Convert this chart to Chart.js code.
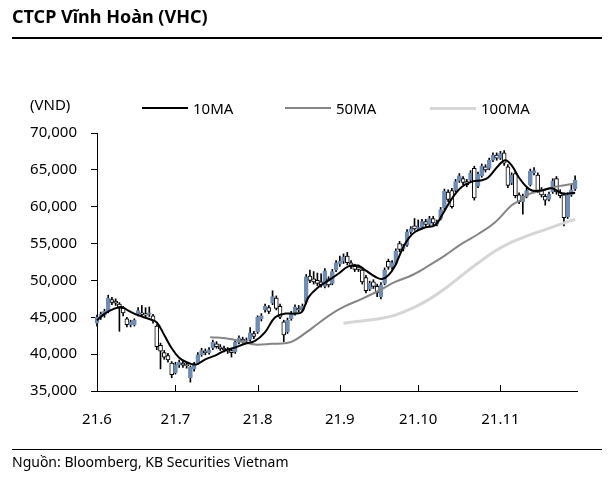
<!DOCTYPE html>
<html>
<head>
<meta charset="utf-8">
<script src="https://cdn.jsdelivr.net/npm/chart.js@4.4.1/dist/chart.umd.min.js"></script>
<style>
  body { margin: 0; background: #fff; font-family: 'Noto Sans', sans-serif; color: #000; }
  #wrap { position: relative; width: 614px; height: 479px; overflow: hidden; }
  #chart { position: absolute; left: 0; top: 0; }
  .title { position: absolute; left: 12px; top: 4px; font-size: 18px; font-weight: bold; }
  .rule { position: absolute; left: 12px; width: 590px; border-top: 1px solid #000; }
  .unit { position: absolute; left: 30px; top: 94px; font-size: 15px; }
  .legend { position: absolute; top: 98px; font-size: 15px; display: flex; align-items: center; }
  .legend i { display: inline-block; width: 46px; margin-right: 5px; }
  .source { position: absolute; left: 12px; top: 452px; font-size: 14px; }
</style>
</head>
<body>
<div id="wrap">
  <canvas id="chart" width="614" height="479"></canvas>
  <div class="title">CTCP Vĩnh Hoàn (VHC)</div>
  <div class="rule" style="top:37px;border-top-width:2px"></div>
  <div class="unit">(VND)</div>
  <div id="legend"></div>
  <div class="rule" style="top:449px"></div>
  <div class="source">Nguồn: Bloomberg, KB Securities Vietnam</div>
</div>
<script>
// daily candles, June - Nov 2021 (index = trading day)
const opens = [44200,45000,45300,45800,47400,47200,46800,46200,44800,44000,44000,45500,45600,45500,45400,45200,43800,41200,40200,39800,
  38800,37500,38500,38800,38600,36800,38000,38800,39900,40400,40200,40800,41400,41000,40800,40600,40500,40300,41600,42000,
  41800,42000,42800,43000,44800,46000,46300,46900,47600,46500,44400,43000,44800,45500,46200,46000,47000,50600,50200,50000,
  49800,49200,50200,49600,51400,52200,52600,53300,52400,51900,51800,51400,50400,48800,49800,49200,47800,49600,52600,51800,
  52300,55000,54300,54800,56600,57400,57000,57200,58000,57600,58400,57600,58400,59800,62000,62200,62200,63500,63800,63400,
  63600,65200,62800,64200,65400,65200,66300,67000,66600,67300,65400,63200,64500,61600,60700,61400,63000,64600,64300,62300,
  61400,61000,62000,63800,62000,61600,58600,61600,62400];
const closes = [45000,45400,45800,47600,47000,46900,46200,45600,44000,44300,44600,45900,45400,45300,45600,44500,41000,40400,39600,39200,
  37200,38600,38900,38500,38400,38200,38600,39900,40500,40200,40600,41600,41000,40700,40600,40400,40200,41600,42200,41800,
  41900,42900,42400,45000,45200,46500,45800,47800,46200,45000,42600,44600,45500,46400,46000,46500,50500,50000,49800,49600,
  49400,51300,49400,51200,52400,52600,53200,52400,51900,51500,51500,49800,48600,49600,49200,48300,49400,51400,51800,52400,
  54000,54200,54600,56600,57000,57000,57200,58000,57600,58400,57800,57900,59600,62100,61000,60000,63400,64200,63300,63000,
  64600,61200,64400,65500,65000,66300,67000,66600,67200,65900,62900,64300,61500,60700,61400,62200,64800,64900,62200,61600,
  60900,61700,63500,62000,61500,58500,61600,62300,63600];
const highs = [45300,45700,46100,48000,47700,47500,47000,46500,45000,44600,44800,46300,46600,46300,46400,45400,44000,41500,40500,40100,
  39000,38900,39200,39100,38900,38400,38900,40200,40800,40700,40900,41900,41700,41300,41100,40900,40800,41900,42500,42300,
  42200,43600,43100,45200,45500,46800,46600,48600,47900,46800,44600,44900,45800,46700,46600,46800,50800,51400,51200,51000,
  50900,51600,50500,51500,52700,53300,53600,53800,52700,52200,52100,51700,50700,49900,50100,49500,49700,51700,52900,52700,
  54300,55300,54900,56900,57300,58400,58200,58300,58300,58700,58700,58200,59900,62400,62300,62500,63700,64500,64100,63700,
  64900,65500,64700,65800,65700,66600,67300,67300,67500,67600,65700,64600,64800,61900,61700,62500,65100,65300,64600,62600,
  61700,62000,63800,64100,62300,61900,61900,63000,64200];
const lows = [43800,44700,45000,45600,46700,46600,43100,45200,43700,43700,43800,45200,45100,45000,45100,44200,40600,38000,39300,38900,
  36800,37300,38200,38200,38100,36200,37700,38600,39700,39900,40000,40600,40800,40500,40300,40100,39600,40100,41400,41500,
  41600,41800,42100,42800,44500,45700,45500,46700,46000,44800,41700,42800,44600,45300,45700,45800,46800,49700,49500,49300,
  49100,49000,49100,49400,51200,51900,52300,52100,51600,51200,51200,49500,48300,48600,48900,47800,47500,49400,51500,51500,
  52100,53900,54000,54600,56300,56800,56800,57000,57300,57400,57500,57400,58200,59600,60700,59800,62000,63300,63000,62700,
  63400,60900,62600,64000,64700,65000,66100,66300,66400,65600,62600,63000,61200,60400,59000,61200,62800,64300,61900,61300,
  60200,60800,61800,61700,61200,57400,58400,61400,62200];

// moving averages: [trading day, value]
const ma10 = [[0,44600],[2.1,45500],[4.8,46200],[6.6,46400],[8.4,45900],[11.1,45250],[13.8,44800],[16,44300],[18,42600],[20,40800],
  [22,39500],[24,38900],[26.5,38600],[29,39300],[31.6,39800],[34.3,40500],[37,40900],[39.6,41400],[42.3,41800],[45,43000],
  [47.7,45000],[50.4,45500],[53,45500],[54.8,45700],[56.6,47700],[59.3,49100],[62,50000],[64.6,50900],[67.3,51900],[70,52000],
  [71.8,51400],[74.5,50500],[76.3,50200],[78,50700],[79.8,52000],[81.6,54100],[83.4,55700],[85.2,56600],[87.9,57200],[90.5,57500],
  [92.3,58800],[95,61100],[97.7,62700],[100.4,63400],[103,63600],[104.8,64000],[107.5,65600],[109.3,66300],[111,65600],[112.9,64000],
  [114.6,62900],[116.4,62200],[119.1,62200],[121.8,62500],[124.5,61800],[126.3,61800],[128,61900]];
const ma50 = [[30.3,42300],[35.2,42100],[39.6,41600],[42.3,41300],[46.8,41400],[50.8,41500],[53,41900],[57.5,43500],[62,45200],
  [66.4,46500],[70.9,47500],[75.4,48600],[79.8,49800],[84.3,50700],[88.8,52000],[93.2,53400],[97.7,55000],[102.1,56300],
  [106.6,57900],[111,60200],[113.8,61000],[115.5,61700],[119.1,62200],[122.7,62700],[126.3,63000],[128,63200]];
const ma100 = [[66,44200],[70.9,44500],[75.4,44800],[79.8,45300],[84.3,46200],[88.8,47400],[93.2,48900],[97.7,50700],
  [102.1,52400],[106.6,54000],[111,55200],[115.5,56100],[120,56900],[124.5,57700],[128,58300]];

const monthStart = [0, 21, 43, 65, 86, 108];
const monthLabels = ['21.6', '21.7', '21.8', '21.9', '21.10', '21.11'];
const seriesNames = ['10MA', '50MA', '100MA'];
const seriesColors = ['#000000', '#858585', '#d6d6d6'];
const seriesWidths = [2, 2, 3];

const upColor = '#6e8cb4';
const tickFont = { family: 'Noto Sans', size: 15 };

// legend (html)
const legendEl = document.getElementById('legend');
[142, 285, 430].forEach((left, k) => {
  const d = document.createElement('div');
  d.className = 'legend';
  d.style.left = left + 'px';
  d.innerHTML = '<i style="border-top:' + seriesWidths[k] + 'px solid ' + seriesColors[k] + '"></i>' + seriesNames[k];
  legendEl.appendChild(d);
});

const monthTicks = {
  id: 'monthTicks',
  afterDatasetsDraw(chart) {
    const { ctx, chartArea, scales: { x } } = chart;
    ctx.save();
    ctx.strokeStyle = '#000';
    ctx.lineWidth = 1;
    monthStart.slice(1).forEach(v => {
      const px = Math.round(x.getPixelForValue(v)) + 0.5;
      ctx.beginPath();
      ctx.moveTo(px, chartArea.bottom);
      ctx.lineTo(px, chartArea.bottom - 6);
      ctx.stroke();
    });
    ctx.restore();
  }
};

const isUp = i => closes[i] >= opens[i];

function maLine(k, pts) {
  return {
    type: 'line', label: seriesNames[k], order: k,
    data: pts.map(p => ({ x: p[0], y: p[1] })),
    borderColor: seriesColors[k], borderWidth: seriesWidths[k],
    pointRadius: 0, tension: 0.4, clip: false
  };
}

new Chart(document.getElementById('chart'), {
  type: 'bar',
  data: {
    datasets: [
      maLine(0, ma10),
      maLine(1, ma50),
      maLine(2, ma100),
      {
        label: 'body', order: 3, grouped: false, barThickness: 4, borderSkipped: false,
        data: opens.map((o, i) => ({ x: i, y: [o, closes[i]] })),
        backgroundColor: c => isUp(c.dataIndex) ? upColor : '#ffffff',
        borderColor: c => isUp(c.dataIndex) ? upColor : '#000000',
        borderWidth: 1, clip: false
      },
      {
        label: 'wick', order: 4, grouped: false, barThickness: 1, borderSkipped: false,
        data: lows.map((l, i) => ({ x: i, y: [l, highs[i]] })),
        backgroundColor: '#000000', borderWidth: 0, clip: false
      }
    ]
  },
  options: {
    responsive: false,
    animation: false,
    layout: { padding: { top: 133, right: 37, left: 0, bottom: 0 } },
    plugins: { legend: { display: false }, tooltip: { enabled: false } },
    scales: {
      x: {
        type: 'linear', min: 0, max: 128.5, offset: false,
        afterBuildTicks: s => { s.ticks = monthStart.map(v => ({ value: v })); },
        afterFit: s => { s.height = 88; },
        ticks: {
          autoSkip: false, maxRotation: 0, padding: 12, color: '#000', font: tickFont,
          callback: v => monthLabels[monthStart.indexOf(v)]
        },
        grid: { display: false, offset: false },
        border: { color: '#000', width: 1 }
      },
      y: {
        min: 35000, max: 70000,
        afterFit: s => { s.width = 97; },
        ticks: {
          stepSize: 5000, padding: 14, color: '#000', font: tickFont,
          callback: v => v.toLocaleString('en-US')
        },
        grid: { drawOnChartArea: false, tickLength: 6, color: '#000' },
        border: { color: '#000', width: 1 }
      }
    }
  },
  plugins: [monthTicks]
});
</script>
</body>
</html>
